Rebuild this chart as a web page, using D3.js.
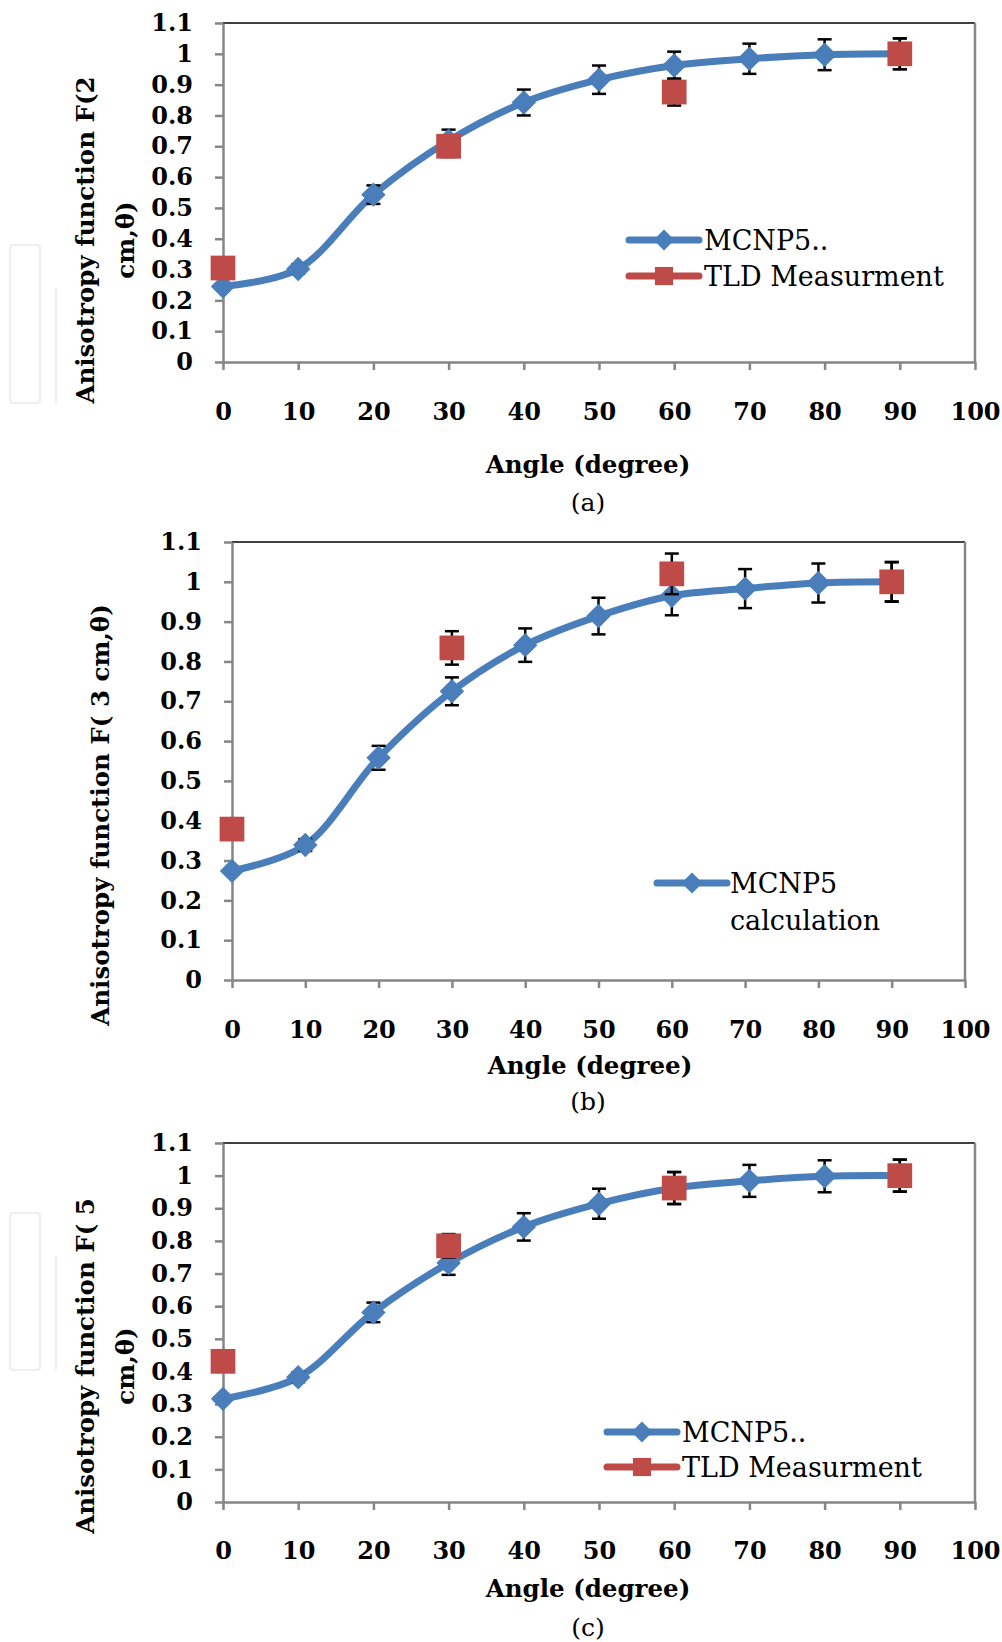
<!DOCTYPE html>
<html>
<head>
<meta charset="utf-8">
<script src="https://cdn.jsdelivr.net/npm/d3@7"></script>
<style>
  body { margin: 0; background: #fff; }
  svg { display: block; }
  .tick text { font-family: "DejaVu Serif", serif; font-weight: bold; font-size: 24px; fill: #000; }
  .axis path, .axis line { stroke: #868686; stroke-width: 2.5; }
  .title { font-family: "DejaVu Serif", serif; font-weight: bold; font-size: 24.5px; fill: #000; }
  .legend { font-family: "DejaVu Serif", serif; font-size: 27px; fill: #000; }
  .sub { font-family: "DejaVu Serif", serif; font-size: 25px; fill: #000; }
</style>
</head>
<body>
<div id="chart"></div>
<script>
// angles (degree)
var angles = [0, 10, 20, 30, 40, 50, 60, 70, 80, 90];
var tldAngles = [0, 30, 60, 90];

// (a) r = 2 cm
var mcnpA    = [0.245, 0.302, 0.543, 0.718, 0.842, 0.916, 0.962, 0.984, 0.997, 1.0];
var mcnpErrA = [0.012, 0.015, 0.030, 0.036, 0.042, 0.046, 0.045, 0.049, 0.050, 0.050];
var tldA     = [0.305, 0.700, 0.876, 1.0];
var tldErrA  = [0.010, 0.035, 0.044, 0.050];

// (b) r = 3 cm
var mcnpB    = [0.274, 0.339, 0.558, 0.725, 0.841, 0.914, 0.965, 0.983, 0.997, 1.0];
var mcnpErrB = [0.010, 0.015, 0.030, 0.035, 0.042, 0.046, 0.049, 0.049, 0.049, 0.049];
var tldB     = [0.379, 0.834, 1.020, 1.0];
var tldErrB  = [0.010, 0.042, 0.051, 0.050];

// (c) r = 5 cm
var mcnpC    = [0.316, 0.382, 0.581, 0.732, 0.843, 0.914, 0.962, 0.984, 0.998, 1.0];
var mcnpErrC = [0.010, 0.015, 0.030, 0.036, 0.042, 0.046, 0.049, 0.049, 0.049, 0.049];
var tldC     = [0.431, 0.785, 0.962, 1.0];
var tldErrC  = [0.010, 0.036, 0.049, 0.049];

var xTicks = [0, 10, 20, 30, 40, 50, 60, 70, 80, 90, 100];
var yTicks = [0, 0.1, 0.2, 0.3, 0.4, 0.5, 0.6, 0.7, 0.8, 0.9, 1, 1.1];

var blue = "#4A7EBB", red = "#BE4B48";

var panels = [
  { mcnp: mcnpA, mcnpErr: mcnpErrA, tld: tldA, tldErr: tldErrA,
    left: 223, right: 975, top: 23, bottom: 362, xPad: 33, titleX: 588, titleDy: 102, subY: 502,
    yTitle: ["Anisotropy function F(2", "cm,\u03b8)"], yTitleX: [85, 125], yTitleY: 240,
    legend: { x0: 629, x1: 699, y: 240, dy: 36, tx: 704,
              items: [["MCNP5..", "mcnp"], ["TLD Measurment", "tld"]] },
    sub: "(a)", watermark: [245, 403, 289] },
  { mcnp: mcnpB, mcnpErr: mcnpErrB, tld: tldB, tldErr: tldErrB,
    left: 232, right: 965, top: 542, bottom: 980, xPad: 33, titleX: 590, titleDy: 85, subY: 1101,
    yTitle: ["Anisotropy function F( 3 cm,\u03b8)"], yTitleX: [100], yTitleY: 815,
    legend: { x0: 657, x1: 727, y: 883, dy: 37, tx: 730,
              items: [["MCNP5", "mcnp"], ["calculation", null]] },
    sub: "(b)", watermark: null },
  { mcnp: mcnpC, mcnpErr: mcnpErrC, tld: tldC, tldErr: tldErrC,
    left: 223, right: 975, top: 1143, bottom: 1502, xPad: 32, titleX: 588, titleDy: 86, subY: 1627,
    yTitle: ["Anisotropy function F( 5", "cm,\u03b8)"], yTitleX: [85, 125], yTitleY: 1366,
    legend: { x0: 607, x1: 677, y: 1432, dy: 35, tx: 682,
              items: [["MCNP5..", "mcnp"], ["TLD Measurment", "tld"]] },
    sub: "(c)", watermark: [1213, 1370, 1257] }
];

var svg = d3.select("#chart").append("svg")
    .attr("width", 1002)
    .attr("height", 1642);

var diamond = d3.symbol().type(d3.symbolDiamond2);
var square = d3.symbol().type(d3.symbolSquare2);

panels.forEach(function(p) {
  var x = d3.scaleLinear().domain([0, 100]).range([p.left, p.right]);
  var y = d3.scaleLinear().domain([0, 1.1]).range([p.bottom, p.top]);
  var g = svg.append("g");

  // faint leftover frames at page edge
  if (p.watermark) {
    g.append("rect").attr("x", 10).attr("y", p.watermark[0])
      .attr("width", 30).attr("height", p.watermark[1] - p.watermark[0])
      .attr("rx", 3).attr("fill", "none").attr("stroke", "#eceeef").attr("stroke-width", 2);
    g.append("line").attr("x1", 56).attr("x2", 56)
      .attr("y1", p.watermark[2]).attr("y2", p.watermark[1])
      .attr("stroke", "#eceeef").attr("stroke-width", 2);
  }

  // plot frame: top dark, right gray
  g.append("line").attr("x1", p.left).attr("x2", p.right).attr("y1", p.top).attr("y2", p.top)
    .attr("stroke", "#404040").attr("stroke-width", 2);
  g.append("line").attr("x1", p.right).attr("x2", p.right).attr("y1", p.top).attr("y2", p.bottom)
    .attr("stroke", "#868686").attr("stroke-width", 2.5);

  g.append("g").attr("class", "axis")
    .attr("transform", "translate(0," + p.bottom + ")")
    .call(d3.axisBottom(x).tickValues(xTicks).tickSize(8).tickSizeOuter(0).tickPadding(p.xPad))
    .call(function(a) { a.selectAll("text").attr("font-family", null).attr("font-size", null); });

  g.append("g").attr("class", "axis")
    .attr("transform", "translate(" + p.left + ",0)")
    .call(d3.axisLeft(y).tickValues(yTicks).tickSize(8).tickSizeOuter(0).tickPadding(22)
      .tickFormat(function(d) { return String(+d.toFixed(1)); }))
    .call(function(a) { a.selectAll("text").attr("font-family", null).attr("font-size", null); });

  // titles
  g.append("text").attr("class", "title")
    .attr("x", p.titleX).attr("y", p.bottom + p.titleDy)
    .attr("text-anchor", "middle").attr("dominant-baseline", "central")
    .text("Angle (degree)");
  g.append("text").attr("class", "sub")
    .attr("x", 588).attr("y", p.subY)
    .attr("text-anchor", "middle").attr("dominant-baseline", "central")
    .text(p.sub);
  p.yTitle.forEach(function(t, i) {
    g.append("text").attr("class", "title")
      .attr("transform", "translate(" + p.yTitleX[i] + "," + p.yTitleY + ") rotate(-90)")
      .attr("text-anchor", "middle").attr("dominant-baseline", "central")
      .text(t);
  });

  // MCNP5 smooth line
  var mcnpData = angles.map(function(a, i) { return { a: a, v: p.mcnp[i], e: p.mcnpErr[i] }; });
  var tldData = tldAngles.map(function(a, i) { return { a: a, v: p.tld[i], e: p.tldErr[i] }; });

  var line = d3.line()
    .x(function(d) { return x(d.a); })
    .y(function(d) { return y(d.v); })
    .curve(d3.curveCatmullRom.alpha(0.5));

  g.append("path").datum(mcnpData)
    .attr("d", line).attr("fill", "none")
    .attr("stroke", blue).attr("stroke-width", 7).attr("stroke-linejoin", "round");

  function errorBars(data) {
    var eb = g.append("g").attr("stroke", "#000").attr("stroke-width", 2.5);
    eb.selectAll(".v").data(data).enter().append("line")
      .attr("x1", function(d) { return x(d.a); }).attr("x2", function(d) { return x(d.a); })
      .attr("y1", function(d) { return y(d.v - d.e); }).attr("y2", function(d) { return y(d.v + d.e); });
    [-1, 1].forEach(function(s) {
      eb.selectAll(".c" + s).data(data).enter().append("line")
        .attr("x1", function(d) { return x(d.a) - 7; }).attr("x2", function(d) { return x(d.a) + 7; })
        .attr("y1", function(d) { return y(d.v + s * d.e); }).attr("y2", function(d) { return y(d.v + s * d.e); });
    });
  }

  errorBars(mcnpData);
  g.selectAll(".dm").data(mcnpData).enter().append("path")
    .attr("d", diamond.size(380))
    .attr("transform", function(d) { return "translate(" + x(d.a) + "," + y(d.v) + ")"; })
    .attr("fill", blue);

  errorBars(tldData);
  g.selectAll(".sq").data(tldData).enter().append("path")
    .attr("d", square.size(780))
    .attr("transform", function(d) { return "translate(" + x(d.a) + "," + y(d.v) + ")"; })
    .attr("fill", red);

  // legend
  var L = p.legend;
  L.items.forEach(function(it, i) {
    var ly = L.y + i * L.dy;
    if (it[1]) {
      var c = it[1] === "mcnp" ? blue : red;
      g.append("line").attr("x1", L.x0).attr("x2", L.x1).attr("y1", ly).attr("y2", ly)
        .attr("stroke", c).attr("stroke-width", 7).attr("stroke-linecap", "round");
      g.append("path")
        .attr("d", it[1] === "mcnp" ? diamond.size(280)() : square.size(420)())
        .attr("transform", "translate(" + (L.x0 + L.x1) / 2 + "," + ly + ")")
        .attr("fill", c);
    }
    g.append("text").attr("class", "legend")
      .attr("x", L.tx).attr("y", ly)
      .attr("dominant-baseline", "central")
      .text(it[0]);
  });
});
</script>
</body>
</html>
